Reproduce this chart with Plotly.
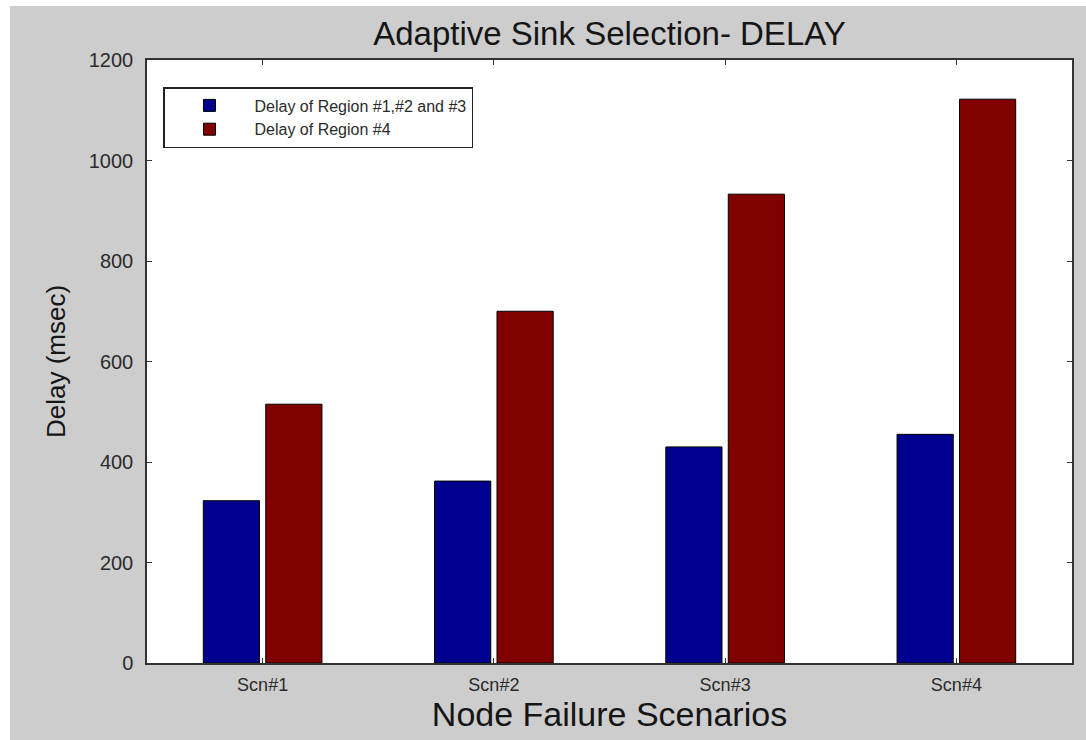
import plotly.graph_objects as go

scenarios = ["Scn#1", "Scn#2", "Scn#3", "Scn#4"]
delay_r123 = [323, 362, 430, 455]
delay_r4 = [515, 700, 933, 1122]
series_names = ["Delay of Region #1,#2 and #3", "Delay of Region #4"]
y_ticks = [0, 200, 400, 600, 800, 1000, 1200]

W, H = 1086, 740
L, R, T, B = 147, 14, 60, 77
pw, ph = W - L - R, H - T - B

FONT = "Arial, Liberation Sans, sans-serif"
TXT = "#2b2b2b"

fig = go.Figure()
fig.add_trace(go.Bar(x=scenarios, y=delay_r123, name=series_names[0],
                     marker=dict(color="#00008F", line=dict(color="#000000", width=1))))
fig.add_trace(go.Bar(x=scenarios, y=delay_r4, name=series_names[1],
                     marker=dict(color="#800000", line=dict(color="#000000", width=1))))

# grey figure background and white axes area
fig.add_shape(type="rect", xref="paper", yref="paper", layer="below",
              x0=(10 - L) / pw, x1=(W - L) / pw, y0=-B / ph, y1=(H - B - 6) / ph,
              fillcolor="#cdcdcd", line=dict(width=0))
fig.add_shape(type="rect", xref="paper", yref="paper", layer="below",
              x0=0, x1=1, y0=0, y1=1, fillcolor="#ffffff", line=dict(width=0))

fig.update_layout(
    width=W, height=H,
    margin=dict(l=L, r=R, t=T, b=B),
    paper_bgcolor="#ffffff", plot_bgcolor="#ffffff",
    barmode="group", bargap=0.46, bargroupgap=0.1,
    font=dict(family=FONT, color=TXT),
    title=dict(text="Adaptive Sink Selection- DELAY", font=dict(size=33, color="#151515"),
               x=(L + pw / 2) / W, xanchor="center", y=1 - 33 / H, yanchor="middle"),
    legend=dict(x=(163 - L) / pw, y=(H - B - 87) / ph, xanchor="left", yanchor="top",
                bgcolor="#ffffff", bordercolor="#222222", borderwidth=1.5,
                font=dict(size=16, color=TXT), tracegroupgap=0, itemwidth=80),
    showlegend=True,
)
fig.update_xaxes(
    range=[-0.5, 3.5], showline=True, linecolor="#333333", linewidth=1.5, mirror="ticks",
    ticks="inside", ticklen=5, tickcolor="#333333", showgrid=False,
    tickfont=dict(size=18, color=TXT), ticklabelstandoff=5,
    title=dict(text="Node Failure Scenarios", font=dict(size=34, color="#151515"), standoff=1),
)
fig.update_yaxes(
    range=[0, 1200], tickvals=y_ticks, showline=True, linecolor="#333333", linewidth=1.5,
    mirror="ticks", ticks="inside", ticklen=5, tickcolor="#333333", showgrid=False,
    zeroline=False, tickfont=dict(size=20, color=TXT), ticklabelstandoff=8,
    title=dict(text="Delay (msec)", font=dict(size=26, color="#151515"), standoff=16),
)

fig.write_html("out.html", config={"displayModeBar": False},
               post_script="document.body.style.margin='0px';document.body.style.overflow='hidden';")
